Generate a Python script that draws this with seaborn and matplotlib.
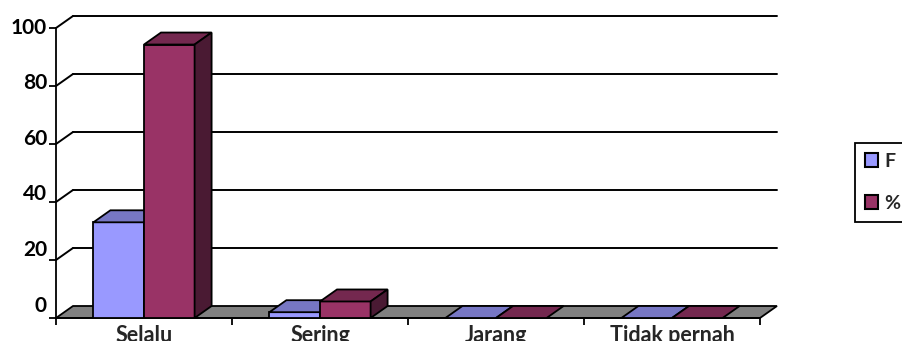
import numpy as np
import pandas as pd
import matplotlib
matplotlib.use('Agg')
import matplotlib.pyplot as plt
import matplotlib.transforms as mtransforms
from matplotlib.patches import Polygon, Patch
from matplotlib.lines import Line2D
import seaborn as sns

categories = ['Selalu', 'Sering', 'Jarang', 'Tidak pernah']
series = ['F', '%']
f_values = [33, 2, 0, 0]
pct_values = [94.3, 5.7, 0, 0]
y_ticks = [0, 20, 40, 60, 80, 100]

front_colors = ['#9999FF', '#993366']
top_colors = ['#7777C4', '#74284F']
side_colors = ['#4D4D80', '#4A1A33']

df = pd.DataFrame({
    'Kategori': categories * 2,
    'Seri': [series[0]] * 4 + [series[1]] * 4,
    'Nilai': f_values + pct_values,
})

sns.set_style('white')
plt.rcParams['font.family'] = ['Lato', 'DejaVu Sans']
plt.rcParams['font.weight'] = 'bold'

fig = plt.figure(figsize=(9.03, 3.41), dpi=100)
ax = fig.add_axes([56 / 903, 23 / 341, 704 / 903, 290 / 341])
sns.barplot(data=df, x='Kategori', y='Nilai', hue='Seri', palette=front_colors,
            width=0.575, edgecolor='black', linewidth=1.3, saturation=1,
            errorbar=None, legend=False, ax=ax)
ax.set_xlim(-0.5, 3.5)
ax.set_ylim(0, 100)

# depth of the fake 3d in pixels
DX, DY = 17, 12
ident = mtransforms.IdentityTransform()


def px(x, y):
    return ax.transData.transform((x, y))


def back(p):
    return (p[0] + DX, p[1] + DY)


# floor
fl, fr = px(-0.5, 0), px(3.5, 0)
ax.add_patch(Polygon([fl, fr, back(fr), back(fl)], closed=True, facecolor='#808080',
                     edgecolor='black', linewidth=1.3, transform=ident, clip_on=False, zorder=0.5))

# back wall gridlines and left wall diagonals
for v in y_ticks[1:]:
    a, b = px(-0.5, v), px(3.5, v)
    ax.add_line(Line2D([back(a)[0], back(b)[0]], [back(a)[1], back(b)[1]], color='black',
                       linewidth=1.4, transform=ident, clip_on=False, zorder=0.6))
    ax.add_line(Line2D([a[0], back(a)[0]], [a[1], back(a)[1]], color='black',
                       linewidth=1.4, transform=ident, clip_on=False, zorder=0.6))

# tops and sides of the bars
for p in list(ax.patches):
    if not hasattr(p, 'get_width'):
        continue
    x, w, h = p.get_x(), p.get_width(), p.get_height()
    c = x + w / 2
    cat = int(round(c))
    hue = 0 if c < cat else 1
    z = 3 + 2 * cat + hue
    p.set_zorder(z)
    tl, tr = px(x, h), px(x + w, h)
    ax.add_patch(Polygon([tl, tr, back(tr), back(tl)], closed=True, facecolor=top_colors[hue],
                         edgecolor='black', linewidth=1.3, transform=ident, clip_on=False, zorder=z))
    if h > 0:
        br = px(x + w, 0)
        ax.add_patch(Polygon([br, tr, back(tr), back(br)], closed=True, facecolor=side_colors[hue],
                             edgecolor='black', linewidth=1.3, transform=ident, clip_on=False, zorder=z))

sns.despine(ax=ax)
ax.spines['left'].set_color('black')
ax.spines['left'].set_linewidth(1.3)
ax.spines['bottom'].set_color('black')
ax.spines['bottom'].set_linewidth(1.3)
ax.spines['left'].set_zorder(20)

ax.set_yticks(y_ticks)
ax.tick_params(axis='y', left=True, labelleft=False, direction='out', length=5, width=1.3, color='black')
# excel puts the value labels a bit above the ticks, more so near the floor
for t in y_ticks:
    off = mtransforms.ScaledTranslation(-9 / 100, (12 * (100 - t) / 100 + 0.5) / 100, fig.dpi_scale_trans)
    ax.text(-0.5, t, str(t), transform=ax.transData + off, ha='right', va='center',
            fontsize=15, fontweight='bold', color='black')

ax.set_xticks([-0.5, 0.5, 1.5, 2.5, 3.5], [''] * 5)
ax.set_xticks(range(len(categories)), categories, minor=True, fontsize=15.5, fontweight='bold')
ax.tick_params(axis='x', which='major', bottom=True, direction='out', length=5, width=1.3, color='black')
ax.tick_params(axis='x', which='minor', bottom=True, length=0, pad=5)
ax.set_xlabel('')
ax.set_ylabel('')

handles = [Patch(facecolor=front_colors[i], edgecolor='black', linewidth=1.5) for i in range(2)]
leg = fig.legend(handles, series, loc='upper left', bbox_to_anchor=(855 / 903, 1 - 143 / 341),
                 borderaxespad=0, frameon=True, fancybox=False, edgecolor='black', framealpha=1,
                 handlelength=0.7, handleheight=0.7, labelspacing=1.3, borderpad=0.5,
                 handletextpad=0.3, prop={'size': 14, 'weight': 'bold'})
leg.get_frame().set_linewidth(1.3)

fig.savefig('out.png', dpi=100)
